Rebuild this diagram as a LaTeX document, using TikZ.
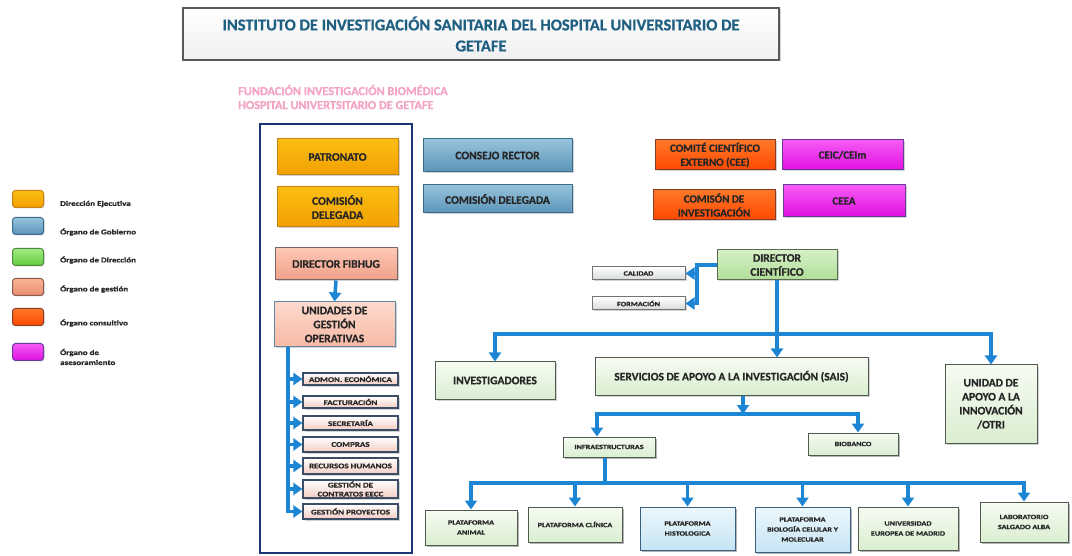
\documentclass[tikz,border=0pt]{standalone}
\usepackage{fontspec}
\setmainfont{Carlito}[BoldFeatures={FakeBold=0.6}]
\newfontfamily\widefont{Carlito}[FakeStretch=1.25, BoldFeatures={FakeBold=0.8}]
\usepackage{tikz}
\usetikzlibrary{arrows.meta,shadows}

\definecolor{lineblue}{HTML}{1C86D4}
\definecolor{titleblue}{HTML}{1F5F82}
\definecolor{pinktxt}{HTML}{F4A3C4}
\definecolor{navyframe}{HTML}{1B3474}

\tikzset{
  sz/.style 2 args={minimum width=#1pt, minimum height=#2pt},
  base/.style={draw, line width=1pt, align=center, inner sep=1pt, text=black!85,
    font=\bfseries\fontsize{11.5}{14}\selectfont,
    drop shadow={shadow xshift=1.5pt, shadow yshift=-1.5pt, opacity=0.35}},
  small/.style={base, font=\widefont\bfseries\fontsize{6.5}{10}\selectfont},
  subbox/.style={base, line width=1.2pt, top color=white, bottom color={rgb,255:red,245;green,205;blue,195},
    draw={rgb,255:red,58;green,78;blue,104}, font=\widefont\bfseries\fontsize{7.2}{9}\selectfont},
  yellowbox/.style={base, top color={rgb,255:red,250;green,190;blue,20}, middle color={rgb,255:red,255;green,210;blue,60},
    bottom color={rgb,255:red,242;green,160;blue,0}, draw={rgb,255:red,200;green,130;blue,20}},
  bluebox/.style={base, top color={rgb,255:red,150;green,195;blue,220}, bottom color={rgb,255:red,92;green,148;blue,184},
    draw={rgb,255:red,60;green,108;blue,140}},
  salmonbox/.style={base, top color={rgb,255:red,252;green,200;blue,182}, bottom color={rgb,255:red,242;green,160;blue,135},
    draw={rgb,255:red,120;green,100;blue,100}},
  paleboxs/.style={base, top color={rgb,255:red,253;green,218;blue,205}, bottom color={rgb,255:red,247;green,185;blue,165},
    draw={rgb,255:red,100;green,135;blue,160}},
  orangebox/.style={base, top color={rgb,255:red,255;green,120;blue,40}, bottom color={rgb,255:red,255;green,72;blue,0},
    draw={rgb,255:red,138;green,58;blue,32}, font=\bfseries\fontsize{11}{14}\selectfont},
  magentabox/.style={base, top color={rgb,255:red,246;green,90;blue,246}, bottom color={rgb,255:red,224;green,16;blue,224},
    draw={rgb,255:red,106;green,58;blue,154}, font=\bfseries\fontsize{11}{14}\selectfont},
  dirbox/.style={base, top color={rgb,255:red,214;green,240;blue,198}, bottom color={rgb,255:red,176;green,222;blue,152},
    draw={rgb,255:red,90;green,106;blue,80}},
  greenbox/.style={base, top color={rgb,255:red,246;green,251;blue,242}, bottom color={rgb,255:red,218;green,238;blue,208},
    draw={rgb,255:red,80;green,90;blue,80}},
  lightbluebox/.style={base, line width=1.3pt, top color={rgb,255:red,236;green,247;blue,252}, bottom color={rgb,255:red,198;green,228;blue,244},
    draw={rgb,255:red,58;green,96;blue,128}},
  graybox/.style={small, top color=white, bottom color={rgb,255:red,214;green,218;blue,214}, draw=black!55},
  legbox/.style={draw, line width=1pt, rounded corners=3pt, sz={31}{17},
    drop shadow={shadow xshift=1pt, shadow yshift=-1pt, opacity=0.3}},
  legtext/.style={anchor=west, align=left, inner sep=0pt, text=black!85,
    font=\widefont\bfseries\fontsize{7.2}{10}\selectfont},
  bline/.style={draw=lineblue, line width=3.5pt},
  barrow/.style={bline, -{Triangle[width=12pt, length=9pt]}}
}

\begin{document}
\begin{tikzpicture}[x=1pt, y=-1pt]

    \fill[white] (0,0) rectangle (1072,556);
    \useasboundingbox (0,0) rectangle (1072,556);

    \node[base, sz={596}{52}, line width=1.2pt, draw=black!65, top color=white, bottom color=black!6,
      text=titleblue, font=\bfseries\fontsize{16.5}{21}\selectfont] (title) at (481,34)
      {INSTITUTO DE INVESTIGACIÓN SANITARIA DEL HOSPITAL UNIVERSITARIO DE\\GETAFE};

    \node[anchor=west, align=left, inner sep=0pt, text=pinktxt, font=\bfseries\fontsize{12.3}{14}\selectfont]
      (fundacion) at (238,97) {FUNDACIÓN INVESTIGACIÓN BIOMÉDICA\\HOSPITAL UNIVERTSITARIO DE GETAFE};

    \node[draw=navyframe, line width=2.2pt, sz={152}{429}] (fundframe) at (336,338.5) {};

    % legend
    \node[legbox, top color={rgb,255:red,250;green,190;blue,20}, bottom color={rgb,255:red,242;green,160;blue,0},
      draw={rgb,255:red,200;green,130;blue,20}] (leg1) at (28,199) {};
    \node[legbox, top color={rgb,255:red,150;green,195;blue,220}, bottom color={rgb,255:red,92;green,148;blue,184},
      draw={rgb,255:red,60;green,108;blue,140}] (leg2) at (28,226) {};
    \node[legbox, top color={rgb,255:red,160;green,234;blue,128}, bottom color={rgb,255:red,102;green,204;blue,64},
      draw={rgb,255:red,74;green,138;blue,58}] (leg3) at (28,257) {};
    \node[legbox, top color={rgb,255:red,250;green,180;blue,150}, bottom color={rgb,255:red,232;green,140;blue,110},
      draw={rgb,255:red,138;green,90;blue,74}] (leg4) at (28,287) {};
    \node[legbox, top color={rgb,255:red,255;green,120;blue,40}, bottom color={rgb,255:red,255;green,72;blue,0},
      draw={rgb,255:red,138;green,58;blue,32}] (leg5) at (28,317) {};
    \node[legbox, top color={rgb,255:red,246;green,90;blue,246}, bottom color={rgb,255:red,224;green,16;blue,224},
      draw={rgb,255:red,106;green,58;blue,154}] (leg6) at (28,352) {};

    \node[legtext] (legt1) at (60,204) {Dirección Ejecutiva};
    \node[legtext] (legt2) at (60,232) {Órgano de Gobierno};
    \node[legtext] (legt3) at (60,260) {Órgano de Dirección};
    \node[legtext] (legt4) at (60,289) {Órgano de gestión};
    \node[legtext] (legt5) at (60,323) {Órgano consultivo};
    \node[legtext] (legt6) at (60,357) {Órgano de\\asesoramiento};

    % fundacion column
    \node[yellowbox, sz={121}{36}] (patronato) at (337.5,157) {PATRONATO};
    \node[yellowbox, sz={121}{40}] (comdelegy) at (337.5,207) {COMISIÓN\\DELEGADA};
    \node[salmonbox, sz={122}{32}] (dirfibhug) at (336,264) {DIRECTOR FIBHUG};
    \node[paleboxs, sz={121}{45}] (unidades) at (334.5,324.5) {UNIDADES DE\\GESTIÓN\\OPERATIVAS};

    \node[subbox, sz={95}{12}] (admon) at (350.5,379) {ADMON. ECONÓMICA};
    \node[subbox, sz={95}{12}] (factur) at (350.5,402) {FACTURACIÓN};
    \node[subbox, sz={95}{14}] (secret) at (350.5,423) {SECRETARÍA};
    \node[subbox, sz={95}{15}] (compras) at (350.5,444.5) {COMPRAS};
    \node[subbox, sz={95}{16}] (rrhh) at (350.5,466) {RECURSOS HUMANOS};
    \node[subbox, sz={95}{18}] (contratos) at (350.5,489) {GESTIÓN DE\\CONTRATOS EECC};
    \node[subbox, sz={95}{15}] (proyectos) at (350.5,511.5) {GESTIÓN PROYECTOS};

    % gobierno and comites
    \node[bluebox, sz={149}{33}] (consejo) at (497.5,155.5) {CONSEJO RECTOR};
    \node[bluebox, sz={149}{28}] (comdelegb) at (497.5,199) {COMISIÓN DELEGADA};
    \node[orangebox, sz={120}{30}] (cee) at (715,155) {COMITÉ CIENTÍFICO\\EXTERNO (CEE)};
    \node[orangebox, sz={122}{30}] (cominv) at (714,205) {COMISÓN DE\\INVESTIGACIÓN};
    \node[magentabox, sz={121}{30}] (ceic) at (842.5,155) {CEIC/CEIm};
    \node[magentabox, sz={122}{32}] (ceea) at (844,201) {CEEA};

    % direccion cientifica
    \node[dirbox, sz={120}{30}] (dircient) at (777,265) {DIRECTOR\\CIENTÍFICO};
    \node[graybox, sz={93}{13}] (calidad) at (638.5,273.5) {CALIDAD};
    \node[graybox, sz={93}{13}] (formacion) at (638.5,303.5) {FORMACIÓN};

    \node[greenbox, sz={120}{37}] (investigadores) at (495,380.5) {INVESTIGADORES};
    \node[greenbox, sz={273}{37}] (sais) at (731.5,376.5) {SERVICIOS DE APOYO A LA INVESTIGACIÓN (SAIS)};
    \node[greenbox, sz={92}{78}] (otri) at (991,404) {UNIDAD DE\\APOYO A LA\\INNOVACIÓN\\/OTRI};

    \node[greenbox, small, sz={92}{20}] (infra) at (609,447) {INFRAESTRUCTURAS};
    \node[greenbox, small, sz={90}{22}] (biobanco) at (853,444) {BIOBANCO};

    \node[greenbox, small, sz={92}{35}] (animal) at (471,527.5) {PLATAFORMA\\ANIMAL};
    \node[greenbox, small, sz={94}{35}] (clinica) at (575,524.5) {PLATAFORMA CLÍNICA};
    \node[lightbluebox, small, sz={95}{43}] (histo) at (687.5,528.5) {PLATAFORMA\\HISTOLOGICA};
    \node[lightbluebox, small, sz={95}{45}] (biologia) at (802.5,529.5) {PLATAFORMA\\BIOLOGÍA CELULAR Y\\MOLECULAR};
    \node[greenbox, small, sz={100}{43}] (universidad) at (908,528.5) {UNIVERSIDAD\\EUROPEA DE MADRID};
    \node[greenbox, small, sz={88}{40}] (laboratorio) at (1024,522) {LABORATORIO\\SALGADO ALBA};

    % connectors
    \coordinate (ubus) at (288,347);
    \coordinate (dcbus) at (697,265);
    \coordinate (mainbus) at (777,334);
    \coordinate (saisbus) at (743,414);
    \coordinate (infrain) at (597,414);
    \coordinate (platbus) at (605,483);

    \draw[barrow] (dirfibhug.south) -- (unidades.north);
    \draw[barrow] (unidades.south -| ubus) |- (proyectos.west);
    \foreach \u in {admon,factur,secret,compras,rrhh,contratos}
      \draw[barrow] (ubus |- \u.west) -- (\u.west);

    \draw[barrow] (dircient.west) -| (dcbus |- formacion.east) -- (formacion.east);
    \draw[barrow] (dcbus |- calidad.east) -- (calidad.east);

    \draw[barrow] (dircient.south) -- (mainbus |- sais.north);
    \draw[barrow] (mainbus) -| (investigadores.north);
    \draw[barrow] (mainbus) -| (otri.north);

    \draw[barrow] (sais.south -| saisbus) -- (saisbus);
    \draw[barrow] (saisbus) -| (infrain |- infra.north);
    \draw[barrow] (saisbus) -| ([xshift=5pt]biobanco.north);

    \draw[bline] (infra.south -| platbus) -- (platbus);
    \foreach \p in {animal,clinica,histo,biologia,universidad,laboratorio}
      \draw[barrow] (platbus) -| (\p.north);

\end{tikzpicture}
\end{document}
